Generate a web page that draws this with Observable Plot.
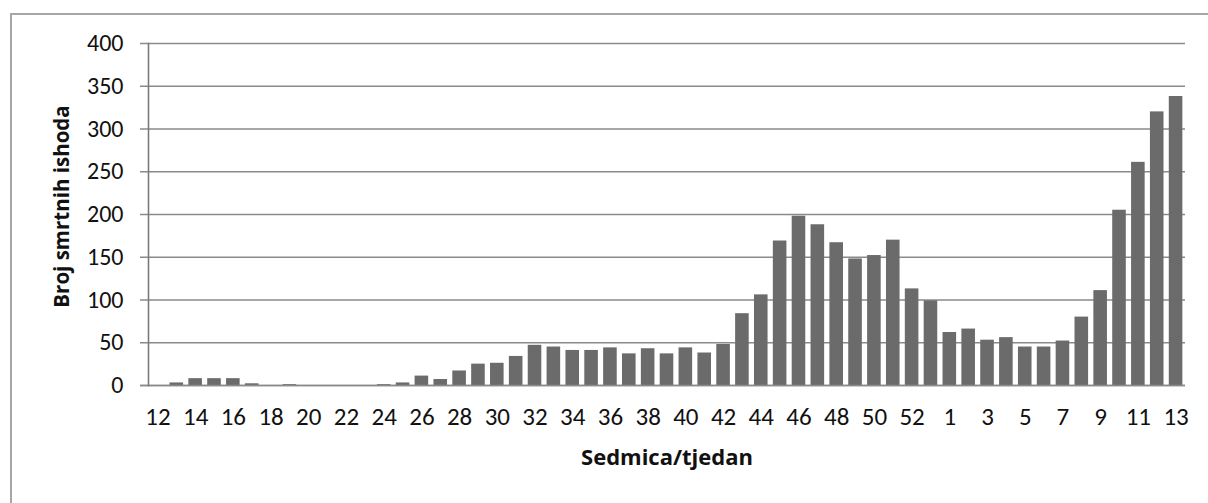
<!DOCTYPE html>
<html>
<head>
<meta charset="utf-8">
<script src="https://cdn.jsdelivr.net/npm/d3@7"></script>
<script src="https://cdn.jsdelivr.net/npm/@observablehq/plot@0.6"></script>
<style>
  html, body { margin: 0; padding: 0; background: #fff; }
  body { width: 1208px; height: 503px; overflow: hidden; position: relative; font-family: Carlito, Lato, sans-serif; }
  #frame { position: absolute; left: 10px; top: 13px; width: 1220px; height: 520px; border-left: 2px solid #a6a6a6; border-top: 2px solid #a6a6a6; box-sizing: border-box; }
  #chart { position: absolute; left: 0; top: 0; }
</style>
</head>
<body>
<div id="frame"></div>
<div id="chart"></div>
<script>
// Weeks 12–53 of 2020, then weeks 1–13 of 2021
const weeks2020 = [12,13,14,15,16,17,18,19,20,21,22,23,24,25,26,27,28,29,30,31,32,33,34,35,36,37,38,39,40,41,42,43,44,45,46,47,48,49,50,51,52,53];
const deaths2020 = [0,3,8,8,8,2,0,1,0,0,0,0,1,3,11,7,17,25,26,34,47,45,41,41,44,37,43,37,44,38,48,84,106,169,198,188,167,148,152,170,113,99];
const weeks2021 = [1,2,3,4,5,6,7,8,9,10,11,12,13];
const deaths2021 = [62,66,53,56,45,45,52,80,111,205,261,320,338];
const yTicks = [0,50,100,150,200,250,300,350,400];
const xTitle = "Sedmica/tjedan";
const yTitle = "Broj smrtnih ishoda";

const data = [
  ...weeks2020.map((w, i) => ({key: "2020-" + w, week: w, value: deaths2020[i]})),
  ...weeks2021.map((w, i) => ({key: "2021-" + w, week: w, value: deaths2021[i]}))
];
const keys = data.map(d => d.key);
const weekOf = new Map(data.map(d => [d.key, d.week]));
const shownTicks = keys.filter((k, i) => i % 2 === 0);

const titleFont = "'Open Sans', Lato, sans-serif";

const chart = Plot.plot({
  width: 1208,
  height: 503,
  marginLeft: 148,
  marginRight: 23,
  marginTop: 43,
  marginBottom: 118,
  style: {fontFamily: "Carlito, Lato, sans-serif", background: "transparent", color: "#111"},
  x: {type: "band", domain: keys, paddingInner: 0.28, paddingOuter: 0.14, axis: null},
  y: {domain: [0, 400], axis: null},
  marks: [
    Plot.ruleY(yTicks, {stroke: "#8a8a8a", strokeWidth: 1.7, insetLeft: -8}),
    Plot.barY(data, {x: "key", y: "value", fill: "#6b6b6b"}),
    Plot.ruleY([0], {stroke: "#8a8a8a", strokeWidth: 1.7, insetLeft: -8}),
    Plot.frame({anchor: "left", stroke: "#7a7a7a", strokeWidth: 1.6}),
    Plot.axisY({ticks: yTicks, tickSize: 0, tickPadding: 25, fontSize: 24, label: null}),
    Plot.text(shownTicks, {x: d => d, frameAnchor: "bottom", dy: 39, text: k => String(weekOf.get(k)), fontSize: 25, fill: "#111"}),
    Plot.text([xTitle], {frameAnchor: "bottom", dy: 79, text: d => d, fontSize: 22, fontWeight: "bold", fontFamily: titleFont}),
    Plot.text([yTitle], {frameAnchor: "left", textAnchor: "middle", dx: -86, dy: -8, rotate: -90, text: d => d, fontSize: 20.5, fontWeight: "bold", fontFamily: titleFont})
  ]
});
document.getElementById("chart").appendChild(chart);
</script>
</body>
</html>
